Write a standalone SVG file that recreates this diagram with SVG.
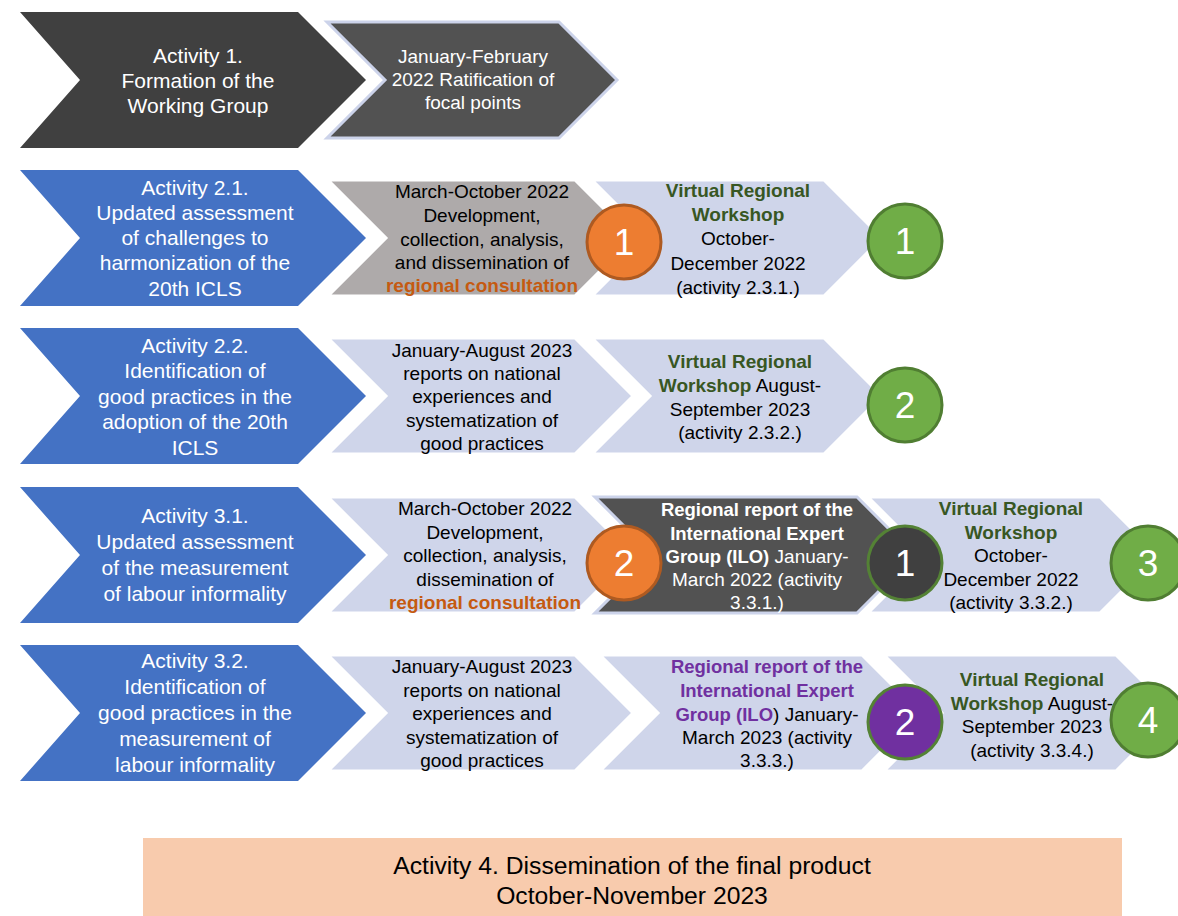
<svg xmlns="http://www.w3.org/2000/svg" width="1178" height="916" viewBox="0 0 1178 916">
<style>
text { font-family: "Liberation Sans", Arial, sans-serif; text-anchor: middle; }
.t1 { font-size: 21px; fill: #ffffff; }
.t2 { font-size: 19px; fill: #000000; }
.t2w { font-size: 19px; fill: #ffffff; }
.t3 { font-size: 24.7px; fill: #000000; }
.num { font-size: 37px; fill: #ffffff; }
.b { font-weight: bold; }
.bs { font-weight: bold; font-size: 18.5px; }
.gr { fill: #385723; }
.or { fill: #C55A11; }
.pu { fill: #7030A0; }
.blue { fill: #4472C4; }
.dark { fill: #404040; }
.dark2 { fill: #525252; stroke: #CCD3EA; stroke-width: 3; }
.gray { fill: #AEAAAA; stroke: #ffffff; stroke-width: 3; }
.lb { fill: #CFD5EA; stroke: #ffffff; stroke-width: 3; }
.c-or { fill: #ED7D31; stroke: #AE5A21; stroke-width: 3; }
.c-gr { fill: #70AD47; stroke: #507E32; stroke-width: 3; }
.c-dk { fill: #404040; stroke: #548235; stroke-width: 3; }
.c-pu { fill: #7030A0; stroke: #548235; stroke-width: 3; }
</style>
<defs>
<polygon id="bigchev" points="0,0 278,0 346,68 278,136 0,136 60,68"/>
<polygon id="chev" points="0,0 232,0 290,58 232,116 0,116 58,58"/>
<polygon id="chevm" points="0,0 247,0 305,58 247,116 0,116 58,58"/>
<polygon id="chevw" points="0,0 262,0 320,58 262,116 0,116 58,58"/>
</defs>
<rect width="1178" height="916" fill="#ffffff"/>
<g id="connectors"/>

<!-- Row 1 -->
<g id="act1">
<use href="#bigchev" x="20" y="12" class="dark"/>
<text class="t1"><tspan x="198" y="63">Activity 1.</tspan><tspan x="198" y="88">Formation of the</tspan><tspan x="198" y="113">Working Group</tspan></text>
</g>
<g id="act1-ratification">
<use href="#chev" x="327" y="22" class="dark2"/>
<text class="t2w"><tspan x="473" y="63">January-February</tspan><tspan x="473" y="86">2022 Ratification of</tspan><tspan x="473" y="109">focal points</tspan></text>
</g>

<!-- Row 2 -->
<g id="act21">
<use href="#bigchev" x="20" y="170" class="blue"/>
<text class="t1"><tspan x="195" y="195">Activity 2.1.</tspan><tspan x="195" y="220">Updated assessment</tspan><tspan x="195" y="245">of challenges to</tspan><tspan x="195" y="270">harmonization of the</tspan><tspan x="195" y="296">20th ICLS</tspan></text>
</g>
<g id="act21-consult">
<use href="#chevm" x="328" y="180" class="gray"/>
<text class="t2"><tspan x="482" y="198">March-October 2022</tspan><tspan x="482" y="222">Development,</tspan><tspan x="482" y="246">collection, analysis,</tspan><tspan x="482" y="269">and dissemination of</tspan><tspan x="482" y="292" class="b or">regional consultation</tspan></text>
</g>
<g id="act21-workshop">
<use href="#chev" x="592" y="180" class="lb"/>
<text class="t2"><tspan x="738" y="197" class="b gr">Virtual Regional</tspan><tspan x="738" y="221" class="b gr">Workshop</tspan><tspan x="738" y="245">October-</tspan><tspan x="738" y="270">December 2022</tspan><tspan x="738" y="294">(activity 2.3.1.)</tspan></text>
</g>
<g id="r2-orange1">
<circle cx="624" cy="242" r="37" class="c-or"/>
<text class="num" x="624" y="255">1</text>
</g>
<g id="r2-green1">
<circle cx="905" cy="241" r="37" class="c-gr"/>
<text class="num" x="905" y="254">1</text>
</g>

<!-- Row 3 -->
<g id="act22">
<use href="#bigchev" x="20" y="328" class="blue"/>
<text class="t1"><tspan x="195" y="353">Activity 2.2.</tspan><tspan x="195" y="378">Identification of</tspan><tspan x="195" y="404">good practices in the</tspan><tspan x="195" y="429">adoption of the 20th</tspan><tspan x="195" y="455">ICLS</tspan></text>
</g>
<g id="act22-reports">
<use href="#chevm" x="328" y="338" class="lb"/>
<text class="t2"><tspan x="482" y="357">January-August 2023</tspan><tspan x="482" y="380">reports on national</tspan><tspan x="482" y="403">experiences and</tspan><tspan x="482" y="427">systematization of</tspan><tspan x="482" y="450">good practices</tspan></text>
</g>
<g id="act22-workshop">
<use href="#chev" x="592" y="338" class="lb"/>
<text class="t2"><tspan x="740" y="368" class="b gr">Virtual Regional</tspan><tspan x="740" y="392"><tspan class="b gr">Workshop</tspan> August-</tspan><tspan x="740" y="416">September 2023</tspan><tspan x="740" y="439">(activity 2.3.2.)</tspan></text>
</g>
<g id="r3-green2">
<circle cx="905" cy="405" r="37" class="c-gr"/>
<text class="num" x="905" y="418">2</text>
</g>

<!-- Row 4 -->
<g id="act31">
<use href="#bigchev" x="20" y="487" class="blue"/>
<text class="t1"><tspan x="195" y="523">Activity 3.1.</tspan><tspan x="195" y="549">Updated assessment</tspan><tspan x="195" y="575">of the measurement</tspan><tspan x="195" y="601">of labour informality</tspan></text>
</g>
<g id="act31-consult">
<use href="#chevm" x="328" y="497" class="lb"/>
<text class="t2"><tspan x="485" y="515">March-October 2022</tspan><tspan x="485" y="539">Development,</tspan><tspan x="485" y="562">collection, analysis,</tspan><tspan x="485" y="586">dissemination of</tspan><tspan x="485" y="609" class="b or">regional consultation</tspan></text>
</g>
<g id="act31-report">
<use href="#chevw" x="595" y="497" class="dark2"/>
<text class="t2w"><tspan x="757" y="516" class="bs">Regional report of the</tspan><tspan x="757" y="540" class="bs">International Expert</tspan><tspan x="757" y="563"><tspan class="bs">Group (ILO)</tspan> January-</tspan><tspan x="757" y="586">March 2022 (activity</tspan><tspan x="757" y="609">3.3.1.)</tspan></text>
</g>
<g id="act31-workshop">
<use href="#chev" x="868" y="497" class="lb"/>
<text class="t2"><tspan x="1011" y="515" class="b gr">Virtual Regional</tspan><tspan x="1011" y="539" class="b gr">Workshop</tspan><tspan x="1011" y="562">October-</tspan><tspan x="1011" y="586">December 2022</tspan><tspan x="1011" y="609">(activity 3.3.2.)</tspan></text>
</g>
<g id="r4-orange2">
<circle cx="624" cy="563" r="37" class="c-or"/>
<text class="num" x="624" y="576">2</text>
</g>
<g id="r4-dark1">
<circle cx="905" cy="563" r="37" class="c-dk"/>
<text class="num" x="905" y="576">1</text>
</g>
<g id="r4-green3">
<circle cx="1148" cy="563" r="37" class="c-gr"/>
<text class="num" x="1148" y="576">3</text>
</g>

<!-- Row 5 -->
<g id="act32">
<use href="#bigchev" x="20" y="645" class="blue"/>
<text class="t1"><tspan x="195" y="668">Activity 3.2.</tspan><tspan x="195" y="694">Identification of</tspan><tspan x="195" y="720">good practices in the</tspan><tspan x="195" y="746">measurement of</tspan><tspan x="195" y="772">labour informality</tspan></text>
</g>
<g id="act32-reports">
<use href="#chevm" x="328" y="655" class="lb"/>
<text class="t2"><tspan x="482" y="673">January-August 2023</tspan><tspan x="482" y="697">reports on national</tspan><tspan x="482" y="720">experiences and</tspan><tspan x="482" y="744">systematization of</tspan><tspan x="482" y="767">good practices</tspan></text>
</g>
<g id="act32-report">
<use href="#chevw" x="600" y="655" class="lb"/>
<text class="t2"><tspan x="767" y="673" class="bs pu">Regional report of the</tspan><tspan x="767" y="697" class="bs pu">International Expert</tspan><tspan x="767" y="721"><tspan class="bs pu">Group (ILO</tspan>) January-</tspan><tspan x="767" y="744">March 2023 (activity</tspan><tspan x="767" y="767">3.3.3.)</tspan></text>
</g>
<g id="act32-workshop">
<use href="#chev" x="884" y="655" class="lb"/>
<text class="t2"><tspan x="1032" y="686" class="b gr">Virtual Regional</tspan><tspan x="1032" y="710"><tspan class="b gr">Workshop</tspan> August-</tspan><tspan x="1032" y="733">September 2023</tspan><tspan x="1032" y="757">(activity 3.3.4.)</tspan></text>
</g>
<g id="r5-purple2">
<circle cx="905" cy="722" r="37" class="c-pu"/>
<text class="num" x="905" y="735">2</text>
</g>
<g id="r5-green4">
<circle cx="1148" cy="720" r="37" class="c-gr"/>
<text class="num" x="1148" y="733">4</text>
</g>

<!-- Activity 4 -->
<g id="act4">
<rect x="143" y="838" width="979" height="80" fill="#F8CBAD"/>
<text class="t3"><tspan x="632" y="874">Activity 4. Dissemination of the final product</tspan><tspan x="632" y="904">October-November 2023</tspan></text>
</g>
</svg>
